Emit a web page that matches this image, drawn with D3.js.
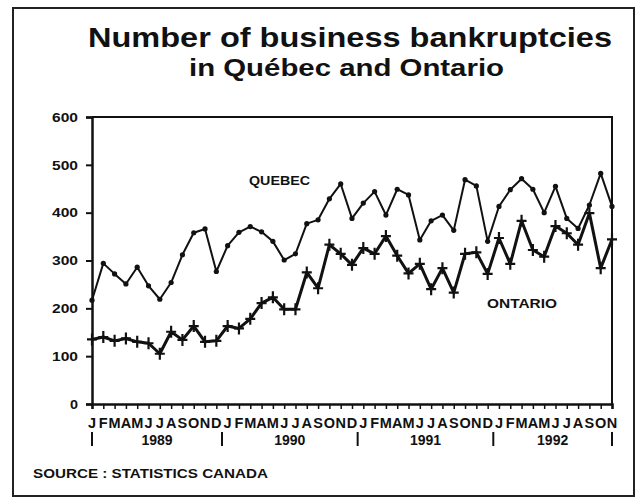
<!DOCTYPE html>
<html>
<head>
<meta charset="utf-8">
<script src="https://cdn.jsdelivr.net/npm/d3@7"></script>
<style>
  body { margin: 0; background: #fff; }
  svg text { font-family: "Liberation Sans", Arial, sans-serif; font-weight: bold; fill: #111; }
</style>
</head>
<body>
<svg id="chart"></svg>
<script>
//////////////// Daten ////////////////////
const monthLetters = ["J","F","M","A","M","J","J","A","S","O","N","D"];
const years = ["1989", "1990", "1991", "1992"];
const nMonths = 47; // Jan 1989 .. Nov 1992

const quebec = [217, 294, 272, 251, 286, 247, 219, 254, 312, 358, 366, 277,
                331, 359, 371, 360, 340, 301, 314, 377, 385, 429, 460, 388,
                420, 444, 395, 449, 437, 343, 383, 395, 363, 469, 456, 340,
                413, 448, 471, 449, 400, 455, 388, 367, 416, 482, 413];

const ontario = [135, 140, 132, 137, 130, 127, 105, 151, 134, 163, 130, 132,
                 163, 158, 178, 211, 223, 198, 198, 275, 242, 333, 314, 291,
                 326, 314, 351, 310, 273, 293, 240, 284, 233, 314, 317, 272,
                 347, 293, 383, 322, 308, 372, 357, 333, 399, 284, 344];

const yTicks = [0, 100, 200, 300, 400, 500, 600];

//////////////// Konstanten ////////////////////
const W = 637, H = 498;
const plot = {left: 92, right: 612, top: 117, bottom: 404};

const svg = d3.select("#chart").attr("width", W).attr("height", H);

// Rahmen
svg.append("rect")
  .attr("x", 13).attr("y", 8)
  .attr("width", 621).attr("height", 488)
  .attr("fill", "none").attr("stroke", "#222").attr("stroke-width", 2);

// Titel
svg.append("text")
  .attr("x", 88).attr("y", 47)
  .attr("textLength", 524).attr("lengthAdjust", "spacingAndGlyphs")
  .style("font-size", "27px")
  .text("Number of business bankruptcies");
svg.append("text")
  .attr("x", 189).attr("y", 76)
  .attr("textLength", 315).attr("lengthAdjust", "spacingAndGlyphs")
  .style("font-size", "23px")
  .text("in Québec and Ontario");

//////////////// Scaling ////////////////////
const x = d3.scaleLinear().domain([0, nMonths - 1]).range([plot.left, plot.right]);
const y = d3.scaleLinear().domain([0, 600]).range([plot.bottom, plot.top]);

// Rahmen oben / rechts
svg.append("path")
  .attr("d", `M${plot.left},${plot.top}H${plot.right}V${plot.bottom}`)
  .attr("fill", "none").attr("stroke", "#111").attr("stroke-width", 2);

// y-Achse
const yAxis = svg.append("g")
  .attr("transform", `translate(${plot.left},0)`)
  .call(d3.axisLeft(y).tickValues(yTicks).tickSize(6).tickPadding(8));
yAxis.select(".domain").attr("stroke", "#111").attr("stroke-width", 2.5);
yAxis.selectAll(".tick line").attr("stroke", "#111").attr("stroke-width", 2);
yAxis.selectAll(".tick text")
  .style("font-size", "13px")
  .style("font-family", "'Liberation Sans', Arial, sans-serif")
  .style("font-weight", "bold")
  .attr("textLength", function(d) { return d === 0 ? 8 : 26; })
  .attr("lengthAdjust", "spacingAndGlyphs");

// x-Achse
const idx = d3.range(nMonths);
const xAxis = svg.append("g")
  .attr("transform", `translate(0,${plot.bottom})`)
  .call(d3.axisBottom(x).tickValues(idx).tickSize(5).tickFormat(""));
xAxis.select(".domain").attr("stroke", "#111").attr("stroke-width", 2.5);
xAxis.selectAll(".tick line").attr("stroke", "#111").attr("stroke-width", 1.5);

// Monatsbuchstaben
svg.append("g").selectAll("text")
  .data(idx)
  .join("text")
  .attr("x", d => x(d))
  .attr("y", 428)
  .attr("text-anchor", "middle")
  .style("font-size", "14.5px")
  .text(d => monthLetters[d % 12]);

// Jahrestrenner und Jahre
const sepPos = [0, 11.5, 23.5, 35.5, nMonths - 1];
svg.append("g").selectAll("line")
  .data(sepPos)
  .join("line")
  .attr("x1", d => x(d)).attr("x2", d => x(d))
  .attr("y1", 432).attr("y2", 446)
  .attr("stroke", "#111").attr("stroke-width", 2);
svg.append("g").selectAll("text")
  .data(years)
  .join("text")
  .attr("x", (d, i) => (x(sepPos[i]) + x(sepPos[i + 1])) / 2)
  .attr("y", 445)
  .attr("text-anchor", "middle")
  .style("font-size", "14px")
  .text(d => d);

//////////////// Linien ////////////////////
const line = d3.line().x((d, i) => x(i)).y(d => y(d));

svg.append("path")
  .datum(quebec)
  .attr("d", line)
  .attr("fill", "none").attr("stroke", "#111").attr("stroke-width", 2)
  .attr("stroke-linejoin", "round");
svg.append("g").selectAll("circle")
  .data(quebec)
  .join("circle")
  .attr("cx", (d, i) => x(i))
  .attr("cy", d => y(d))
  .attr("r", 2.6)
  .attr("fill", "#111");

svg.append("path")
  .datum(ontario)
  .attr("d", line)
  .attr("fill", "none").attr("stroke", "#111").attr("stroke-width", 3)
  .attr("stroke-linejoin", "round");
svg.append("g").selectAll("path")
  .data(ontario)
  .join("path")
  .attr("transform", (d, i) => `translate(${x(i)},${y(d)})`)
  .attr("d", "M0,-6V6M-5,0H5")
  .attr("stroke", "#111").attr("stroke-width", 2.2);

// Beschriftungen
svg.append("text")
  .attr("x", 249).attr("y", 185)
  .attr("textLength", 61).attr("lengthAdjust", "spacingAndGlyphs")
  .style("font-size", "13px")
  .text("QUEBEC");
svg.append("text")
  .attr("x", 487).attr("y", 308)
  .attr("textLength", 70).attr("lengthAdjust", "spacingAndGlyphs")
  .style("font-size", "13px")
  .text("ONTARIO");

// Quelle
svg.append("text")
  .attr("x", 33).attr("y", 478)
  .attr("textLength", 235).attr("lengthAdjust", "spacingAndGlyphs")
  .style("font-size", "12.5px")
  .text("SOURCE : STATISTICS CANADA");
</script>
</body>
</html>
